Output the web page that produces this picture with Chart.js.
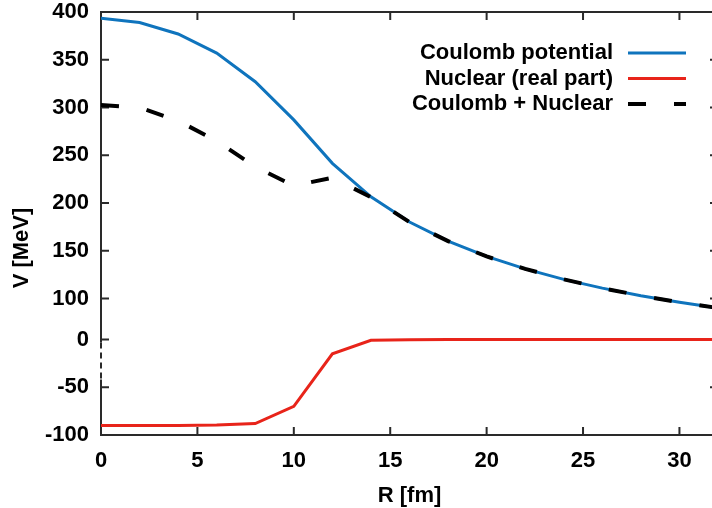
<!DOCTYPE html>
<html>
<head>
<meta charset="utf-8">
<script src="https://cdn.jsdelivr.net/npm/chart.js@4.4.1/dist/chart.umd.min.js"></script>
<style>
  html, body { margin: 0; padding: 0; overflow: hidden; background: #fff; }
  #wrap { position: absolute; left: 0; top: 0; width: 728px; height: 508px; }
</style>
</head>
<body>
<div id="wrap"><canvas id="potentialChart"></canvas></div>
<script>
// radius in fm, potentials in MeV
const radius   = [0, 2, 4, 6, 8, 10, 12, 14, 16, 18, 20, 22, 24, 26, 28, 30, 32];
const coulomb  = [393.5, 389, 377, 357, 327, 287, 241.5, 206.5, 180, 160, 144, 131, 120, 110.8, 102.9, 96, 90];
const nuclear  = [-90, -90, -90, -89.5, -88, -70, -15, -0.8, -0.2, 0, 0, 0, 0, 0, 0, 0, 0];
const combined = [302.5, 300, 286, 265, 238, 218, 226.5, 206, 180, 160, 144, 131, 120, 110.8, 102.9, 96, 90];

const xTicks = [0, 5, 10, 15, 20, 25, 30];
const upperTicks = [400, 350, 300, 250, 200, 150, 100];
const lowerTicks = [0, -50, -100];

Chart.defaults.font = { family: "'Liberation Sans', Arial, sans-serif", size: 22, weight: 'bold', lineHeight: 1.1 };
Chart.defaults.color = '#000';

function points(ys) {
    return radius.map((r, i) => ({ x: r, y: ys[i] }));
}

// the scales should not push the plot area around
function noPadding(s) {
    s.paddingTop = 0;
    s.paddingBottom = 0;
    s.paddingLeft = 0;
    s.paddingRight = 0;
}

// box, inward ticks, y title and key
const decorations = {
    id: 'decorations',
    beforeDatasetsDraw(chart) {
        const { ctx, chartArea: a, scales } = chart;
        const yBot = scales.yBot;
        const dashFrom = yBot.getPixelForValue(0) + 3;
        const dashTo = yBot.getPixelForValue(-42);
        ctx.save();
        ctx.strokeStyle = '#2a2a2a';
        ctx.lineWidth = 2;
        ctx.beginPath();
        ctx.moveTo(a.left, dashFrom);
        ctx.lineTo(a.left, a.top);
        ctx.lineTo(a.right, a.top);
        ctx.lineTo(a.right, a.bottom);
        ctx.lineTo(a.left, a.bottom);
        ctx.lineTo(a.left, dashTo);
        ctx.stroke();
        ctx.setLineDash([6, 4]);
        ctx.beginPath();
        ctx.moveTo(a.left, dashFrom);
        ctx.lineTo(a.left, dashTo);
        ctx.stroke();
        ctx.setLineDash([]);

        const tl = 8;
        ctx.beginPath();
        scales.x.ticks.forEach(t => {
            const px = scales.x.getPixelForValue(t.value);
            if (px <= a.left + 1) return;
            ctx.moveTo(px, a.bottom); ctx.lineTo(px, a.bottom - tl);
            ctx.moveTo(px, a.top); ctx.lineTo(px, a.top + tl);
        });
        [scales.yTop, scales.yBot].forEach(s => s.ticks.forEach(t => {
            const py = s.getPixelForValue(t.value);
            if (py <= a.top + 1 || py >= a.bottom - 1) return;
            ctx.moveTo(a.left, py); ctx.lineTo(a.left + tl, py);
            ctx.moveTo(a.right, py); ctx.lineTo(a.right - tl, py);
        }));
        ctx.stroke();
        ctx.restore();
    },
    afterDraw(chart) {
        const ctx = chart.ctx;
        ctx.save();
        ctx.font = "bold 22px 'Liberation Sans', Arial, sans-serif";
        ctx.fillStyle = '#000';
        ctx.textBaseline = 'middle';

        ctx.save();
        ctx.translate(22, 248);
        ctx.rotate(-Math.PI / 2);
        ctx.textAlign = 'center';
        ctx.fillText('V [MeV]', 0, 0);
        ctx.restore();

        const rows = [53, 78.5, 104];
        ctx.textAlign = 'right';
        chart.data.datasets.forEach((ds, i) => {
            ctx.fillText(ds.label, 613, rows[i]);
            ctx.strokeStyle = ds.borderColor;
            ctx.lineWidth = ds.borderWidth;
            ctx.setLineDash(ds.borderDash || []);
            ctx.beginPath();
            ctx.moveTo(628, rows[i]);
            ctx.lineTo(686, rows[i]);
            ctx.stroke();
        });
        ctx.restore();
    }
};

const ctx = document.getElementById('potentialChart').getContext('2d');
const potentialChart = new Chart(ctx, {
    type: 'line',
    data: {
        datasets: [{
            label: 'Coulomb potential',
            data: points(coulomb),
            yAxisID: 'yTop',
            borderColor: '#0f74bd',
            borderWidth: 3,
            order: 2
        }, {
            label: 'Nuclear (real part)',
            data: points(nuclear),
            yAxisID: 'yBot',
            borderColor: '#e8241a',
            borderWidth: 3,
            order: 1
        }, {
            label: 'Coulomb + Nuclear',
            data: points(combined),
            yAxisID: 'yTop',
            borderColor: '#000',
            borderWidth: 4,
            borderDash: [18, 28],
            order: 0
        }]
    },
    options: {
        responsive: true,
        maintainAspectRatio: false,
        animation: false,
        layout: { padding: { top: 12, right: 10, left: 0, bottom: 0 } },
        elements: { point: { radius: 0 }, line: { tension: 0 } },
        plugins: { legend: { display: false }, tooltip: { enabled: false } },
        scales: {
            x: {
                type: 'linear',
                min: 0,
                max: 32,
                grid: { display: false, drawTicks: false },
                border: { display: false },
                afterBuildTicks: s => { s.ticks = xTicks.map(v => ({ value: v })); },
                afterFit: s => { s.height = 73; noPadding(s); },
                ticks: { padding: 14, maxRotation: 0 },
                title: { display: true, text: 'R [fm]', padding: { top: 0, bottom: 0 } }
            },
            yBot: {
                type: 'linear',
                position: 'left',
                stack: 'v',
                stackWeight: 104,
                min: -100,
                max: 4,
                grid: { display: false, drawTicks: false },
                border: { display: false },
                afterBuildTicks: s => { s.ticks = lowerTicks.map(v => ({ value: v })); },
                afterFit: s => { s.width = 101; noPadding(s); },
                ticks: { padding: 12 }
            },
            yTop: {
                type: 'linear',
                position: 'left',
                stack: 'v',
                stackWeight: 339,
                min: 61,
                max: 400,
                grid: { display: false, drawTicks: false },
                border: { display: false },
                afterBuildTicks: s => { s.ticks = upperTicks.map(v => ({ value: v })); },
                afterFit: s => { s.width = 101; noPadding(s); },
                ticks: { padding: 12 }
            }
        }
    },
    plugins: [decorations]
});
</script>
</body>
</html>
